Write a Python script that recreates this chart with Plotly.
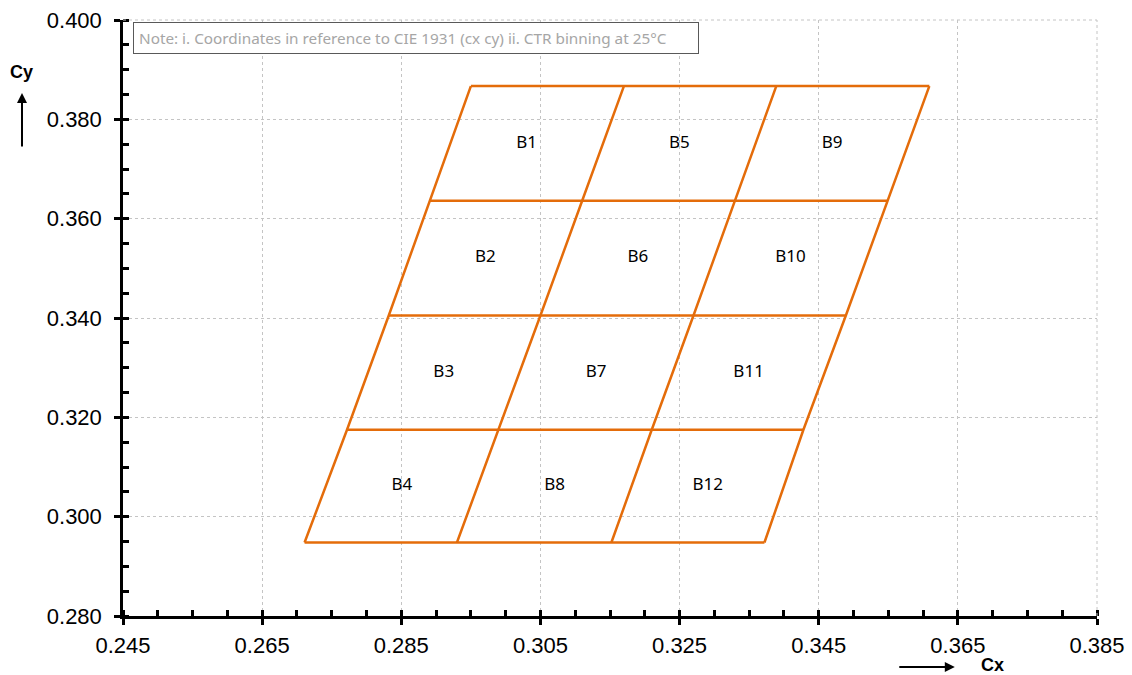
import plotly.graph_objects as go

# Chromaticity bin grid (CIE 1931): boundary rows, bottom to top
row_cy = [0.2948, 0.3175, 0.3405, 0.3636, 0.3867]
# cx of the four column boundaries on each row (left edge, two dividers, right edge)
row_cx = [
    [0.2711, 0.2930, 0.3152, 0.3372],
    [0.2772, 0.2990, 0.3210, 0.3428],
    [0.2832, 0.3050, 0.3270, 0.3489],
    [0.2891, 0.3110, 0.3330, 0.3549],
    [0.2950, 0.3170, 0.3389, 0.3609],
]
# Bin names by column (left to right), each listed top to bottom
bin_names = [
    ["B1", "B2", "B3", "B4"],
    ["B5", "B6", "B7", "B8"],
    ["B9", "B10", "B11", "B12"],
]

x_range = [0.245, 0.385]
y_range = [0.280, 0.400]
note_text = "Note: i. Coordinates in reference to CIE 1931 (cx cy) ii. CTR binning at 25°C"

ORANGE = "#E46C0A"

xs, ys = [], []
# horizontal row boundaries
for cy, cxs in zip(row_cy, row_cx):
    xs += [cxs[0], cxs[-1], None]
    ys += [cy, cy, None]
# slanted column boundaries
for j in range(len(row_cx[0])):
    xs += [r[j] for r in row_cx] + [None]
    ys += list(row_cy) + [None]

fig = go.Figure()
fig.add_trace(go.Scatter(
    x=xs, y=ys, mode="lines",
    line=dict(color=ORANGE, width=2.5),
    hoverinfo="skip", showlegend=False,
))

# bin labels at the centre of each cell
lab_x, lab_y, lab_t = [], [], []
n_rows = len(row_cy) - 1
for c, names in enumerate(bin_names):
    for k, name in enumerate(names):
        r = n_rows - 1 - k  # names run top to bottom
        cx = (row_cx[r][c] + row_cx[r][c + 1] + row_cx[r + 1][c] + row_cx[r + 1][c + 1]) / 4
        cy = (row_cy[r] + row_cy[r + 1]) / 2
        lab_x.append(cx)
        lab_y.append(cy)
        lab_t.append(name)

fig.add_trace(go.Scatter(
    x=lab_x, y=lab_y, text=lab_t, mode="text",
    textfont=dict(family="Noto Sans", size=17, color="#000000"),
    hoverinfo="skip", showlegend=False,
))

axis_common = dict(
    showline=True, linecolor="#000000", linewidth=2.5,
    ticks="outside", ticklen=6, tickwidth=2.5, tickcolor="#000000",
    showgrid=True, gridcolor="#c4c4c4", gridwidth=1, griddash="dot",
    zeroline=False, automargin=False,
    tickfont=dict(family="Liberation Sans", size=22, color="#000000"),
)

fig.update_xaxes(
    range=x_range, tick0=0.245, dtick=0.02, tickformat=".3f", ticklabelstandoff=2,
    minor=dict(ticks="inside", dtick=0.005, tick0=0.245, ticklen=6,
               tickwidth=2.5, tickcolor="#000000", showgrid=False),
    **axis_common,
)
fig.update_yaxes(
    range=y_range, tick0=0.28, dtick=0.02, tickformat=".3f", ticklabelstandoff=8,
    minor=dict(ticks="inside", dtick=0.005, tick0=0.28, ticklen=6,
               tickwidth=2.5, tickcolor="#000000", showgrid=False),
    **axis_common,
)

# dotted frame along the top and right edges of the plot area
fig.add_shape(type="line", xref="paper", yref="paper", x0=0, x1=1, y0=1, y1=1,
              line=dict(color="#c4c4c4", width=1, dash="dot"))
fig.add_shape(type="line", xref="paper", yref="paper", x0=1, x1=1, y0=0, y1=1,
              line=dict(color="#c4c4c4", width=1, dash="dot"))

# axis names with direction arrows
fig.add_annotation(xref="paper", yref="paper", x=-0.1037, y=0.9128, text="<b>Cy</b>",
                   xanchor="center", yanchor="middle", showarrow=False,
                   font=dict(family="Liberation Sans", size=18, color="#000000"))
fig.add_annotation(xref="paper", yref="paper", x=-0.1037, y=0.8775, ax=0, ay=55,
                   text="", showarrow=True,
                   arrowhead=2, arrowsize=1, arrowwidth=2, arrowcolor="#000000")
fig.add_annotation(xref="paper", yref="paper", x=0.893, y=-0.082, text="<b>Cx</b>",
                   xanchor="center", yanchor="middle", showarrow=False,
                   font=dict(family="Liberation Sans", size=18, color="#000000"))
fig.add_annotation(xref="paper", yref="paper", x=0.854, y=-0.0856, ax=-57, ay=0,
                   text="", showarrow=True,
                   arrowhead=2, arrowsize=1, arrowwidth=2, arrowcolor="#000000")

# note box
fig.add_annotation(xref="paper", yref="paper", x=0.0105, y=0.996, xanchor="left", yanchor="top",
                   text=note_text, showarrow=False, align="left",
                   font=dict(family="Noto Sans", size=15.3, color="#a6a6a6"),
                   bordercolor="#595959", borderwidth=1, borderpad=5, bgcolor="#ffffff",
                   width=554)

fig.update_layout(
    width=1132, height=675,
    margin=dict(l=123, r=35, t=20, b=59),
    paper_bgcolor="#ffffff", plot_bgcolor="#ffffff",
    showlegend=False,
)

fig.write_html("out.html")
